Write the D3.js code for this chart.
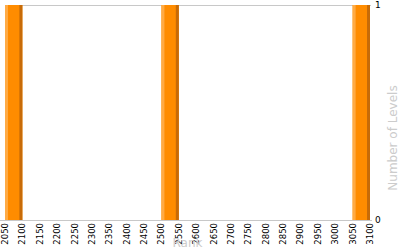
<!DOCTYPE html>
<html>
<head>
<meta charset="utf-8">
<script src="https://cdn.jsdelivr.net/npm/d3@7"></script>
<style>
  body { margin: 0; background: #fff; }
  svg { display: block; font-family: "DejaVu Sans", sans-serif; }
</style>
</head>
<body>
<div id="chart"></div>
<script>
// bin starts (rank), step 50
var binStarts = [2050, 2100, 2150, 2200, 2250, 2300, 2350, 2400, 2450, 2500, 2550,
                 2600, 2650, 2700, 2750, 2800, 2850, 2900, 2950, 3000, 3050];
var levelCounts = [1, 0, 0, 0, 0, 0, 0, 0, 0, 1, 0,
                   0, 0, 0, 0, 0, 0, 0, 0, 0, 1];
var rankTicks = [2050, 2100, 2150, 2200, 2250, 2300, 2350, 2400, 2450, 2500, 2550,
                 2600, 2650, 2700, 2750, 2800, 2850, 2900, 2950, 3000, 3050, 3100];
var levelTicks = [0, 1];
var binSize = 50;

var width = 400,
    height = 250,
    margin = { left: 5, right: 30, top: 5, bottom: 30 };

var x = d3.scaleLinear()
    .domain([2050, 3100])
    .range([margin.left, width - margin.right]);

var y = d3.scaleLinear()
    .domain([0, 1])
    .range([height - margin.bottom, margin.top]);

var svg = d3.select("#chart").append("svg")
    .attr("width", width)
    .attr("height", height);

// top grid line
svg.append("line")
    .attr("x1", x(2050)).attr("x2", x(3100) + 1)
    .attr("y1", y(1) + 0.5).attr("y2", y(1) + 0.5)
    .attr("stroke", "#c8c8c8");

var bins = binStarts.map(function(s, i) { return { start: s, count: levelCounts[i] }; })
    .filter(function(d) { return d.count > 0; });

var barG = svg.append("g").attr("class", "bars");

// main bar body
barG.selectAll("rect.body").data(bins).enter().append("rect")
    .attr("class", "body")
    .attr("x", function(d) { return x(d.start); })
    .attr("y", function(d) { return y(d.count); })
    .attr("width", function(d) { return x(d.start + binSize) - x(d.start); })
    .attr("height", function(d) { return y(0) - y(d.count); })
    .attr("fill", "#ff8c00");

// light left edge
barG.selectAll("rect.light").data(bins).enter().append("rect")
    .attr("class", "light")
    .attr("x", function(d) { return x(d.start); })
    .attr("y", function(d) { return y(d.count); })
    .attr("width", 3)
    .attr("height", function(d) { return y(0) - y(d.count); })
    .attr("fill", "#ffab45");

// dark right edge
barG.selectAll("rect.dark").data(bins).enter().append("rect")
    .attr("class", "dark")
    .attr("x", function(d) { return x(d.start + binSize) - 3; })
    .attr("y", function(d) { return y(d.count); })
    .attr("width", 3)
    .attr("height", function(d) { return y(0) - y(d.count); })
    .attr("fill", "#c76b08");

// bottom axis line
svg.append("line")
    .attr("x1", 0).attr("x2", x(3100) + 2)
    .attr("y1", y(0) + 0.5).attr("y2", y(0) + 0.5)
    .attr("stroke", "#c8c8c8");

// x tick labels, rotated
svg.append("g").selectAll("text").data(rankTicks).enter().append("text")
    .attr("transform", function(d) { return "translate(" + (x(d) + 3) + "," + (y(0) + 3) + ") rotate(-90)"; })
    .attr("text-anchor", "end")
    .attr("font-size", "8.5px")
    .attr("fill", "#000")
    .text(function(d) { return d; });

// y tick labels on the right
svg.append("g").selectAll("text").data(levelTicks).enter().append("text")
    .attr("x", x(3100) + 5)
    .attr("y", function(d) { return y(d) + 3; })
    .attr("font-size", "9px")
    .attr("fill", "#000")
    .text(function(d) { return d; });

// axis titles
svg.append("text")
    .attr("x", (x(2050) + x(3100)) / 2)
    .attr("y", 247)
    .attr("text-anchor", "middle")
    .attr("font-size", "12px")
    .attr("fill", "#cccccc")
    .text("Rank");

svg.append("text")
    .attr("transform", "translate(397,138) rotate(-90)")
    .attr("text-anchor", "middle")
    .attr("font-size", "12px")
    .attr("fill", "#cccccc")
    .text("Number of Levels");
</script>
</body>
</html>
